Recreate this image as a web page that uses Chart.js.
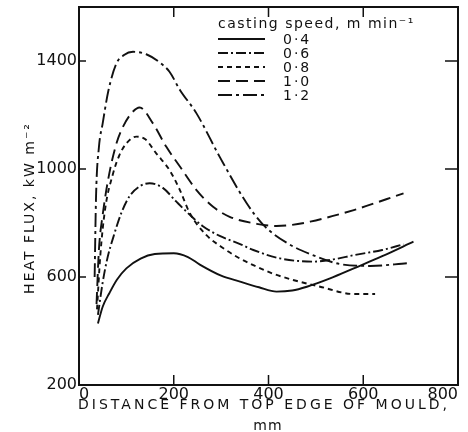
<!DOCTYPE html>
<html>
<head>
<meta charset="utf-8">
<script src="https://cdn.jsdelivr.net/npm/chart.js@4.4.1/dist/chart.umd.min.js"></script>
<style>
  html, body { margin: 0; padding: 0; background: #fff; }
  canvas { display: block; }
</style>
</head>
<body>
<canvas id="fluxChart" width="468" height="432"></canvas>
<script>
// casting speeds (m/min)
const speeds = ['0·4', '0·6', '0·8', '1·0', '1·2'];

// distance from top edge of mould (mm) / heat flux (kW m-2)
const x04 = [40, 50, 64, 80, 100, 130, 160, 200, 230, 255, 300, 340, 380, 417, 450, 481, 530, 580, 640, 706];
const y04 = [428, 490, 540, 590, 632, 668, 685, 688, 674, 646, 605, 583, 562, 546, 550, 564, 595, 632, 677, 731];

const x06 = [40, 50, 60, 72, 90, 107, 130, 149, 177, 205, 234, 260, 297, 340, 368, 424, 495, 540, 580, 640, 685];
const y06 = [460, 580, 670, 745, 840, 900, 938, 947, 930, 880, 830, 790, 752, 722, 700, 669, 657, 666, 681, 700, 721];

const x08 = [38, 45, 55, 72, 85, 100, 121, 140, 163, 191, 213, 234, 269, 300, 333, 368, 410, 452, 509, 580, 625];
const y08 = [480, 680, 850, 984, 1050, 1095, 1120, 1110, 1058, 996, 922, 836, 755, 712, 675, 644, 612, 589, 564, 537, 537];

const x10 = [37, 42, 50, 64, 80, 93, 110, 128, 156, 184, 213, 248, 283, 318, 375, 417, 450, 488, 580, 685];
const y10 = [500, 700, 830, 984, 1100, 1157, 1205, 1228, 1169, 1083, 1009, 922, 860, 823, 797, 789, 793, 805, 848, 910];

const x12 = [33, 36, 42, 50, 62, 79, 95, 114, 142, 170, 191, 213, 248, 297, 354, 389, 440, 488, 551, 615, 692];
const y12 = [600, 900, 1080, 1169, 1290, 1391, 1422, 1434, 1425, 1395, 1360, 1293, 1206, 1045, 873, 793, 725, 685, 648, 641, 651];

// axis ticks
const xTicks = [0, 200, 400, 600, 800];
const yTicks = [200, 600, 1000, 1400];

const ink = '#111';
const font = 'DejaVu Sans';

const pts = (xs, ys) => xs.map((x, i) => ({ x: x, y: ys[i] }));

const series = [
  { data: pts(x04, y04), dash: [] },
  { data: pts(x06, y06), dash: [10, 3, 2, 3] },
  { data: pts(x08, y08), dash: [5, 4] },
  { data: pts(x10, y10), dash: [12, 6] },
  { data: pts(x12, y12), dash: [14, 4, 3, 4] }
];

// frame with inward ticks, axis titles and the legend box
const framePlugin = {
  id: 'frame',
  afterDraw(chart) {
    const { ctx, chartArea: a, scales: { x, y } } = chart;
    ctx.save();
    ctx.strokeStyle = ink;
    ctx.fillStyle = ink;
    ctx.lineWidth = 2;
    ctx.strokeRect(a.left, a.top, a.right - a.left, a.bottom - a.top);

    ctx.lineWidth = 1.5;
    ctx.beginPath();
    xTicks.slice(1, -1).forEach(v => {
      const px = x.getPixelForValue(v);
      ctx.moveTo(px, a.bottom); ctx.lineTo(px, a.bottom - 10);
      ctx.moveTo(px, a.top); ctx.lineTo(px, a.top + 10);
    });
    yTicks.slice(1).forEach(v => {
      const py = y.getPixelForValue(v);
      ctx.moveTo(a.left, py); ctx.lineTo(a.left + 7, py);
      ctx.moveTo(a.right, py); ctx.lineTo(a.right - 13, py);
    });
    ctx.stroke();

    // x title
    ctx.font = '14px "' + font + '"';
    ctx.textAlign = 'center';
    ctx.textBaseline = 'alphabetic';
    ctx.letterSpacing = '3px';
    ctx.fillText('DISTANCE FROM TOP EDGE OF MOULD,', 264, 409);
    ctx.letterSpacing = '1px';
    ctx.fillText('mm', 268, 430);

    // y title
    ctx.save();
    ctx.translate(34, 208);
    ctx.rotate(-Math.PI / 2);
    ctx.letterSpacing = '2px';
    ctx.fillText('HEAT FLUX, kW m⁻²', 0, 0);
    ctx.restore();

    // legend
    ctx.textAlign = 'left';
    ctx.letterSpacing = '1.5px';
    ctx.fillText('casting speed, m min⁻¹', 218, 28);
    ctx.letterSpacing = '2px';
    chart.data.datasets.forEach((ds, i) => {
      const ly = 39 + i * 14;
      ctx.save();
      ctx.lineWidth = ds.borderWidth;
      ctx.setLineDash(ds.borderDash);
      ctx.beginPath();
      ctx.moveTo(218, ly);
      ctx.lineTo(265, ly);
      ctx.stroke();
      ctx.restore();
      ctx.fillText(ds.label, 283, ly + 5);
    });
    ctx.restore();
  }
};

new Chart(document.getElementById('fluxChart').getContext('2d'), {
  type: 'scatter',
  data: {
    datasets: series.map((s, i) => ({
      label: speeds[i],
      data: s.data,
      showLine: true,
      borderColor: ink,
      borderWidth: 1.9,
      borderDash: s.dash,
      pointRadius: 0,
      cubicInterpolationMode: 'monotone',
      fill: false
    }))
  },
  options: {
    responsive: false,
    animation: false,
    devicePixelRatio: 1,
    layout: { padding: { top: 7, right: 10, left: 0, bottom: 0 } },
    plugins: {
      legend: { display: false },
      tooltip: { enabled: false }
    },
    scales: {
      x: {
        type: 'linear',
        min: 0,
        max: 800,
        afterBuildTicks: s => { s.ticks = xTicks.map(v => ({ value: v })); },
        afterFit: s => { s.height = 47; s.paddingLeft = 0; s.paddingRight = 0; },
        grid: { display: false, drawTicks: false },
        border: { display: false },
        ticks: {
          color: ink,
          font: { family: font, size: 16 },
          padding: 0,
          align: 'inner',
          maxRotation: 0,
          autoSkip: false,
          callback: v => String(v)
        }
      },
      y: {
        type: 'linear',
        min: 200,
        max: 1600,
        afterBuildTicks: s => { s.ticks = yTicks.map(v => ({ value: v })); },
        afterFit: s => { s.width = 79; s.paddingTop = 0; s.paddingBottom = 0; },
        grid: { display: false, drawTicks: false },
        border: { display: false },
        ticks: {
          color: ink,
          font: { family: font, size: 16 },
          padding: 2,
          autoSkip: false,
          callback: v => String(v)
        }
      }
    }
  },
  plugins: [framePlugin]
});
</script>
</body>
</html>
